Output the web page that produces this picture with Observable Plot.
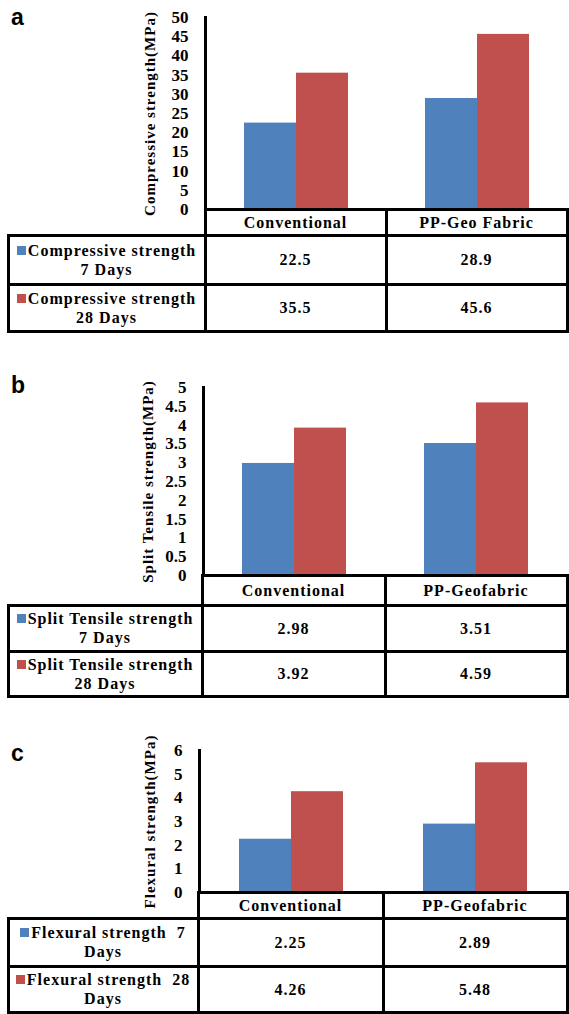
<!DOCTYPE html>
<html>
<head>
<meta charset="utf-8">
<script src="https://cdn.jsdelivr.net/npm/d3@7"></script>
<script src="https://cdn.jsdelivr.net/npm/@observablehq/plot@0.6"></script>
<style>
  html, body { margin: 0; padding: 0; background: #fff; }
  #root { position: relative; width: 569px; height: 1014px; overflow: hidden; background: #fff; }
  .letter { position: absolute; font: bold 23px "Liberation Sans", Arial, sans-serif; line-height: 23px; color: #000; }
  .chart { position: absolute; left: 0; }
  .line { position: absolute; background: #000; }
  .cell { position: absolute; display: flex; align-items: center; justify-content: center; text-align: center;
          font-family: "Liberation Serif", "Times New Roman", serif; font-weight: bold; font-size: 16px;
          letter-spacing: 1px; line-height: 19px; color: #000; white-space: pre; }
  .sq { display: inline-block; width: 9px; height: 9px; margin-right: 2px; vertical-align: 1px; }
</style>
</head>
<body>
<div id="root"></div>
<script>
// ---------------- data ----------------
const periods = ["7 Days", "28 Days"];

const catsA = ["Conventional", "PP-Geo Fabric"];
const days7A = [22.5, 28.9];
const days28A = [35.5, 45.6];
const rowLabelsA = [["Compressive strength", "7 Days"], ["Compressive strength", "28 Days"]];
const ticksA = [0, 5, 10, 15, 20, 25, 30, 35, 40, 45, 50];
const yLabelA = "Compressive strength(MPa)";

const catsB = ["Conventional", "PP-Geofabric"];
const days7B = [2.98, 3.51];
const days28B = [3.92, 4.59];
const rowLabelsB = [["Split Tensile strength", "7 Days"], ["Split Tensile strength", "28 Days"]];
const ticksB = [0, 0.5, 1, 1.5, 2, 2.5, 3, 3.5, 4, 4.5, 5];
const yLabelB = "Split Tensile strength(MPa)";

const catsC = ["Conventional", "PP-Geofabric"];
const days7C = [2.25, 2.89];
const days28C = [4.26, 5.48];
const rowLabelsC = [["Flexural strength  7", "Days"], ["Flexural strength  28", "Days"]];
const ticksC = [0, 1, 2, 3, 4, 5, 6];
const yLabelC = "Flexural strength(MPa)";

const seriesColors = ["#4F81BD", "#C0504D"];

// ---------------- layout ----------------
const W = 569, RIGHT = 567, TABLE_LEFT = 8;
const panels = [
  { letter: "a", cats: catsA, v7: days7A, v28: days28A, rows: rowLabelsA, ticks: ticksA, ylabel: yLabelA,
    L: { letterTop: 6, axisLeft: 205, yTop: 17, yZero: 209, divider: 386, labelDx: -55, rowH: [26, 49, 47] } },
  { letter: "b", cats: catsB, v7: days7B, v28: days28B, rows: rowLabelsB, ticks: ticksB, ylabel: yLabelB,
    L: { letterTop: 374, axisLeft: 202, yTop: 387, yZero: 575, divider: 385, labelDx: -55, rowH: [30, 46, 45] } },
  { letter: "c", cats: catsC, v7: days7C, v28: days28C, rows: rowLabelsC, ticks: ticksC, ylabel: yLabelC,
    L: { letterTop: 742, axisLeft: 198, yTop: 750, yZero: 892, divider: 383, labelDx: -49, rowH: [26, 48, 46] } }
];

const root = document.getElementById("root");
const serif = "'Liberation Serif', 'Times New Roman', serif";

function addDiv(cls, css, html) {
  const d = document.createElement("div");
  d.className = cls;
  Object.assign(d.style, css);
  if (html !== undefined) d.innerHTML = html;
  root.appendChild(d);
  return d;
}

for (const p of panels) {
  const L = p.L;
  // panel letter
  addDiv("letter", { left: "11px", top: L.letterTop + "px" }, p.letter);

  // chart
  const data = p.cats.flatMap((c, i) => [
    { cat: c, period: periods[0], value: p.v7[i] },
    { cat: c, period: periods[1], value: p.v28[i] }
  ]);
  const mT = 10, mB = 10;
  const h = (L.yZero - L.yTop) + mT + mB;
  const chart = Plot.plot({
    width: W,
    height: h,
    marginLeft: L.axisLeft,
    marginRight: W - RIGHT,
    marginTop: mT,
    marginBottom: mB,
    style: { background: "transparent", color: "#000", overflow: "visible" },
    fx: { domain: p.cats, padding: 0, axis: null },
    x: { domain: periods, paddingInner: 0, paddingOuter: 0.74, axis: null },
    y: { domain: [0, p.ticks[p.ticks.length - 1]] },
    color: { domain: periods, range: seriesColors },
    marks: [
      Plot.barY(data, { fx: "cat", x: "period", y: "value", fill: "period" }),
      Plot.frame({ anchor: "left", facetAnchor: "left", stroke: "#000", strokeWidth: 3 }),
      Plot.axisY(p.ticks, {
        tickSize: 0, tickPadding: 17, tickFormat: d => String(d), label: null,
        fontSize: 17, fontWeight: "bold", fontFamily: serif, fill: "#000"
      }),
      Plot.text([p.ylabel], {
        fx: () => p.cats[0], frameAnchor: "left", textAnchor: "middle", lineAnchor: "middle",
        rotate: -90, dx: L.labelDx,
        fontSize: 15, fontWeight: "bold", fontFamily: serif, fill: "#000"
      })
    ]
  });
  chart.classList.add("chart");
  chart.style.position = "absolute";
  chart.style.left = "0px";
  chart.style.top = (L.yTop - mT) + "px";
  d3.select(chart).selectAll("g[aria-label=text] text").style("letter-spacing", "1px");
  root.appendChild(chart);

  // data table
  const ys = [L.yZero];
  L.rowH.forEach(hh => ys.push(ys[ys.length - 1] + hh));
  const lw = 3;
  const hline = (y, xs, xe) => addDiv("line", { left: (xs - lw / 2) + "px", top: (y - lw / 2) + "px", width: (xe - xs + lw) + "px", height: lw + "px" });
  const vline = (x, ys0, ye) => addDiv("line", { left: (x - lw / 2) + "px", top: (ys0 - lw / 2) + "px", width: lw + "px", height: (ye - ys0 + lw) + "px" });
  hline(ys[0], L.axisLeft, RIGHT);
  hline(ys[1], TABLE_LEFT, RIGHT);
  hline(ys[2], TABLE_LEFT, RIGHT);
  hline(ys[3], TABLE_LEFT, RIGHT);
  vline(TABLE_LEFT, ys[1], ys[3]);
  vline(L.axisLeft, ys[0], ys[3]);
  vline(L.divider, ys[0], ys[3]);
  vline(RIGHT, ys[0], ys[3]);

  const colX = [[L.axisLeft, L.divider], [L.divider, RIGHT]];
  const cell = (x0, x1, y0, y1, html) => addDiv("cell", {
    left: x0 + "px", top: y0 + "px", width: (x1 - x0) + "px", height: (y1 - y0) + "px"
  }, html);
  // header
  p.cats.forEach((c, i) => cell(colX[i][0], colX[i][1], ys[0], ys[1], c));
  // rows
  const vals = [p.v7, p.v28];
  p.rows.forEach((lines, r) => {
    const html = `<span><span class="sq" style="background:${seriesColors[r]}"></span>${lines[0]}<br>${lines[1]}</span>`;
    cell(TABLE_LEFT, L.axisLeft, ys[r + 1], ys[r + 2], html);
    vals[r].forEach((v, i) => cell(colX[i][0], colX[i][1], ys[r + 1], ys[r + 2], String(v)));
  });
}
</script>
</body>
</html>
